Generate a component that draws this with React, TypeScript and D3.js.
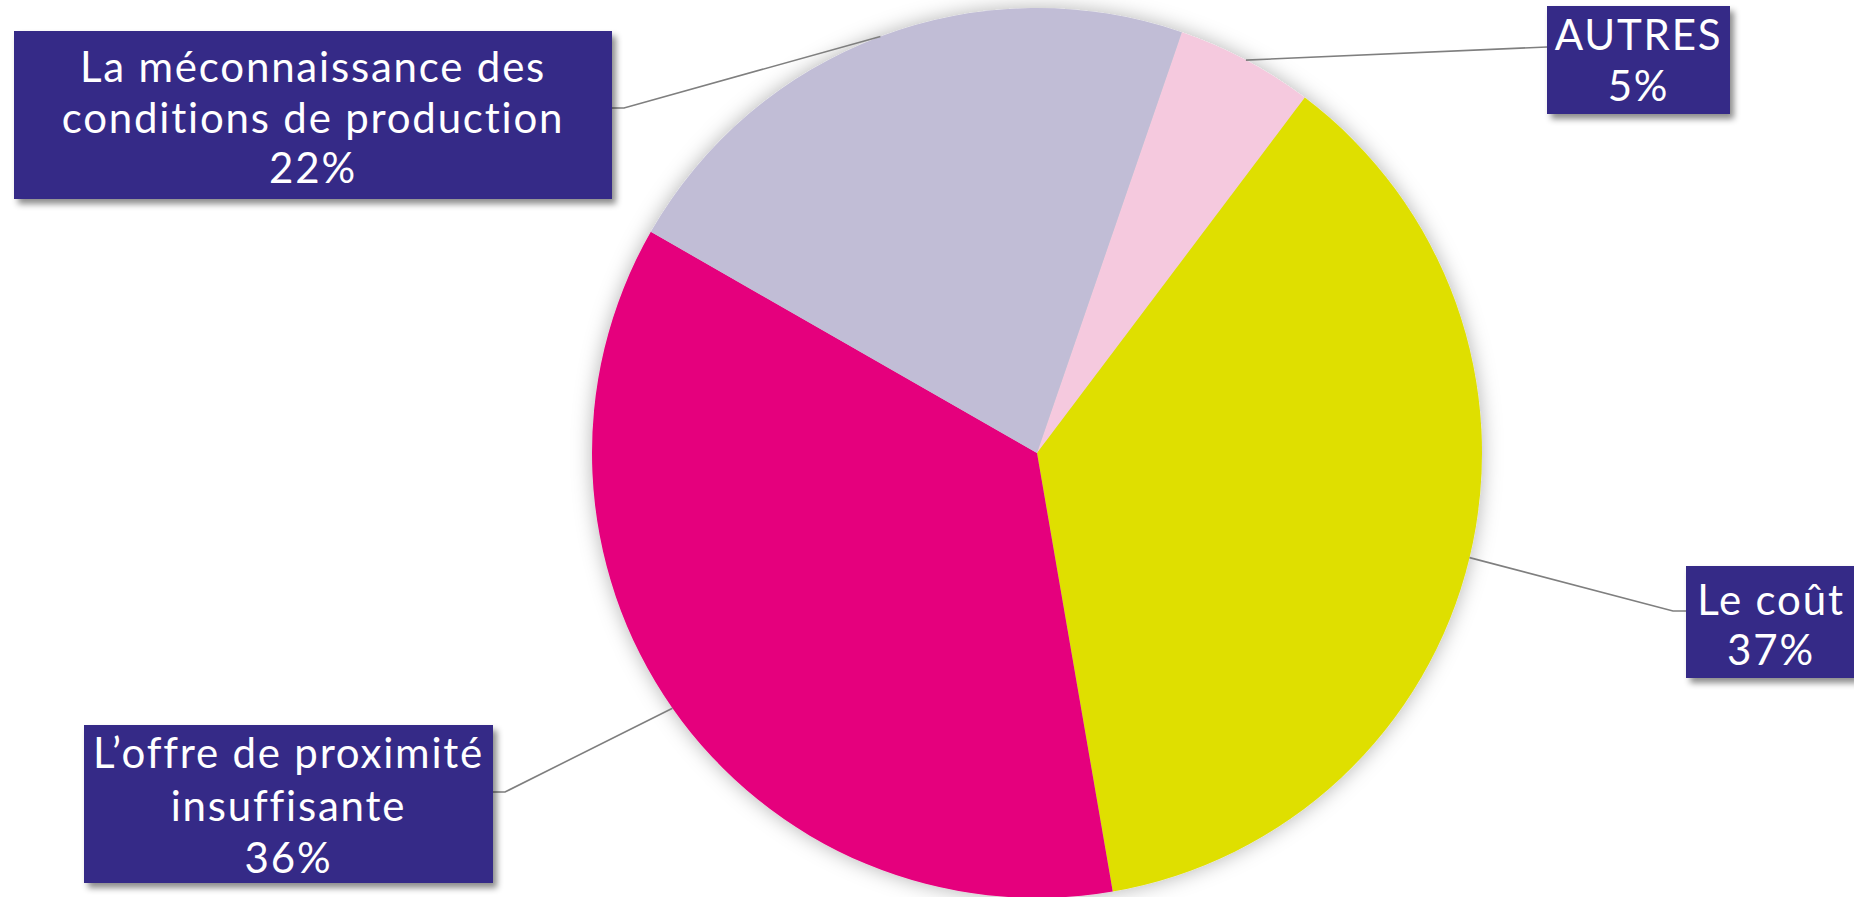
import React from "react";
import * as d3 from "d3";

const categories = ["AUTRES", "Le coût", "L’offre de proximité insuffisante", "La méconnaissance des conditions de production"];
const values = [5, 37, 36, 22];
const labelLines = [["AUTRES"], ["Le coût"], ["L’offre de proximité", "insuffisante"], ["La méconnaissance des", "conditions de production"]];
const colors = ["#F5C9DE", "#DFDF00", "#E5007D", "#C1BDD6"];

const W = 1854, H = 897;
const cx = 1037, cy = 453, R = 445;
const startDeg = 19;

// label box layout
const boxes = [
  { x: 1547, y: 6, w: 183, h: 108, ex: 1547, ey: 47, lines: [35, 86] },
  { x: 1686, y: 566, w: 170, h: 112, ex: 1673, ey: 611, lines: [600, 650] },
  { x: 84, y: 725, w: 409, h: 158, ex: 505, ey: 792, lines: [753, 806, 858] },
  { x: 14, y: 31, w: 598, h: 168, ex: 624, ey: 108, lines: [67, 118, 168] },
];

export default function App() {
  const pie = d3.pie<number>().sort(null).value((d) => d)
    .startAngle((startDeg * Math.PI) / 180)
    .endAngle((startDeg * Math.PI) / 180 + 2 * Math.PI);
  const arcs = pie(values);
  const arcGen = d3.arc<d3.PieArcDatum<number>>().innerRadius(0).outerRadius(R);
  const edgeArc = d3.arc<d3.PieArcDatum<number>>().innerRadius(R).outerRadius(R);
  const fmt = d3.format(".0%");
  const total = d3.sum(values);

  return (
    <svg width={W} height={H} style={{ position: "absolute", left: 0, top: 0 }} fontFamily="Lato, sans-serif">
      <defs>
        <filter id="pieShadow" x="-10%" y="-10%" width="120%" height="120%">
          <feDropShadow dx="0" dy="0" stdDeviation="10" floodColor="#000" floodOpacity="0.3" />
        </filter>
        <filter id="boxShadow" x="-10%" y="-10%" width="125%" height="130%">
          <feDropShadow dx="4" dy="5" stdDeviation="3" floodColor="#000" floodOpacity="0.45" />
        </filter>
      </defs>
      <rect width={W} height={H} fill="#fff" />
      <g transform={`translate(${cx},${cy})`} filter="url(#pieShadow)">
        {arcs.map((a, i) => (
          <path key={i} d={arcGen(a) || ""} fill={colors[i]} />
        ))}
      </g>
      {arcs.map((a, i) => {
        const [px, py] = edgeArc.centroid(a);
        const b = boxes[i];
        const side = b.ex < b.x ? b.x : b.ex > b.x + b.w ? b.x + b.w : b.x;
        return (
          <polyline key={"l" + i}
            points={`${cx + px},${cy + py} ${b.ex},${b.ey} ${side},${b.ey}`}
            fill="none" stroke="#7f7f7f" strokeWidth={1.6} />
        );
      })}
      {arcs.map((a, i) => {
        const b = boxes[i];
        const lines = [...labelLines[i], fmt(values[i] / total)];
        return (
          <g key={"b" + i}>
            <rect x={b.x} y={b.y} width={b.w} height={b.h} fill="#352A87" filter="url(#boxShadow)" />
            {lines.map((t, j) => (
              <text key={j} x={b.x + b.w / 2} y={b.lines[j]} dy="0.35em" textAnchor="middle"
                fill="#fff" fontSize={42} letterSpacing={1.8}>{t}</text>
            ))}
          </g>
        );
      })}
    </svg>
  );
}
